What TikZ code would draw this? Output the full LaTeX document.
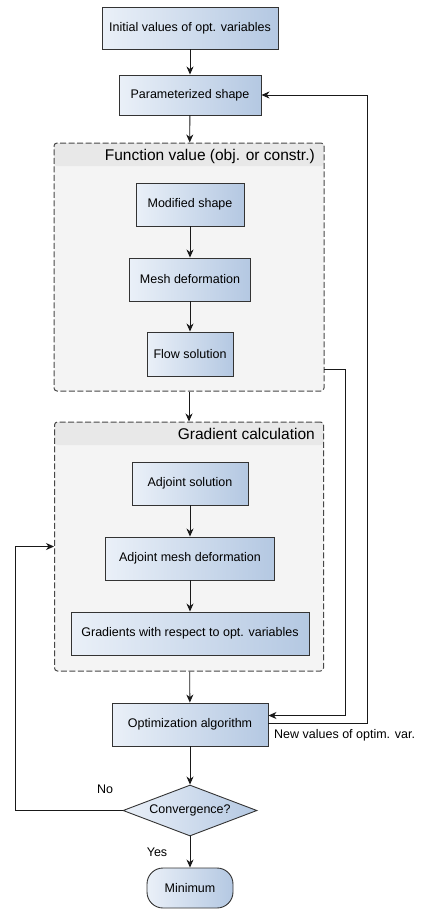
\documentclass[tikz,border=0pt]{standalone}
\usepackage{fontspec}
\setmainfont{Liberation Sans}
\usetikzlibrary{arrows.meta,shapes.geometric}
\definecolor{boxleft}{HTML}{EAF0F8}
\definecolor{boxright}{HTML}{B4C8E2}
\definecolor{grpfill}{HTML}{F4F4F4}
\definecolor{grphead}{HTML}{E8E8E8}
\definecolor{edge}{HTML}{333333}
\begin{document}
\begin{tikzpicture}
  [
    x=1pt, y=-1pt,
    every node/.style={font=\fontsize{12.5}{15}\selectfont},
    box/.style={draw=edge, line width=0.9pt, left color=boxleft, right color=boxright,
      inner sep=0pt, minimum height=43pt},
    group/.style={draw=edge!90, dash pattern=on 6pt off 2.5pt, line width=1pt,
      fill=grpfill, rounded corners=3pt, inner sep=0pt,
      path picture={\fill[grphead] (path picture bounding box.north west)
        rectangle ([yshift=-23pt]path picture bounding box.north east);}},
    head/.style={font=\fontsize{15.5}{18}\selectfont, anchor=east, inner sep=0pt},
    arr/.style={-{Stealth[length=8pt,width=7pt,inset=2.5pt]}, line width=0.85pt, black!90},
    lbl/.style={inner sep=0pt}
  ]
  \useasboundingbox (0,0) rectangle (421,910);
  % top boxes
  \node [box, minimum width=176pt, minimum height=42pt] (init) at (190,28) {Initial values of opt. variables};
  \node [box, minimum width=142pt, minimum height=40pt] (param) at (190,95) {Parameterized shape};
  % function value
  \node [group, minimum width=270pt, minimum height=248pt] (fv) at (189,267) {};
  \node [head] (fvtitle) at (315,156) {Function value (obj. or constr.)};
  \node [box, minimum width=108pt] (mod) at (190,204.5) {Modified shape};
  \node [box, minimum width=121pt] (mesh) at (190,279.5) {Mesh deformation};
  \node [box, minimum width=86pt, minimum height=44pt] (flow) at (190,354) {Flow solution};
  % gradient calculation
  \node [group, minimum width=269pt, minimum height=249pt] (gc) at (189,546.5) {};
  \node [head] (gctitle) at (315,434) {Gradient calculation};
  \node [box, minimum width=116pt] (adj) at (190,483.5) {Adjoint solution};
  \node [box, minimum width=169pt] (amesh) at (190,558.5) {Adjoint mesh deformation};
  \node [box, minimum width=238pt] (grads) at (190,633.5) {Gradients with respect to opt. variables};
  % optimizer
  \node [box, minimum width=156pt] (opt) at (190,724.5) {Optimization algorithm};
  \node [box, shape=diamond, aspect=2.6, minimum width=134pt, minimum height=51pt] (conv) at (190,810.5) {Convergence?};
  \node [box, rounded corners=16pt, minimum width=86pt, minimum height=40pt] (mini) at (190,888) {Minimum};
  % labels
  \node [lbl, anchor=west] (newval) at (274,735) {New values of optim. var.};
  \node [lbl] (no) at (105,789) {No};
  \node [lbl] (yes) at (157,852) {Yes};
  % edges
  \draw [arr] (init) -- (param);
  \draw [arr] (param) -- (fv);
  \draw [arr] (mod) -- (mesh);
  \draw [arr] (mesh) -- (flow);
  \draw [arr] (fv) -- (gc);
  \draw [arr] (adj) -- (amesh);
  \draw [arr] (amesh) -- (grads);
  \draw [arr] (gc) -- (opt);
  \draw [arr] (opt) -- (conv);
  \draw [arr] (conv) -- (mini);
  % loops
  \coordinate (fvout) at (324,369);
  \coordinate (rt) at (367,95);
  \coordinate (lft) at (15,810.5);
  \draw [arr] (fvout) -- (345,369) |- ([yshift=9pt]opt.east);
  \draw [arr] ([yshift=1pt]opt.east) -| (rt) -- (param.east);
  \draw [arr] (conv.west) -- (lft) |- (gc.west);
\end{tikzpicture}
\end{document}
